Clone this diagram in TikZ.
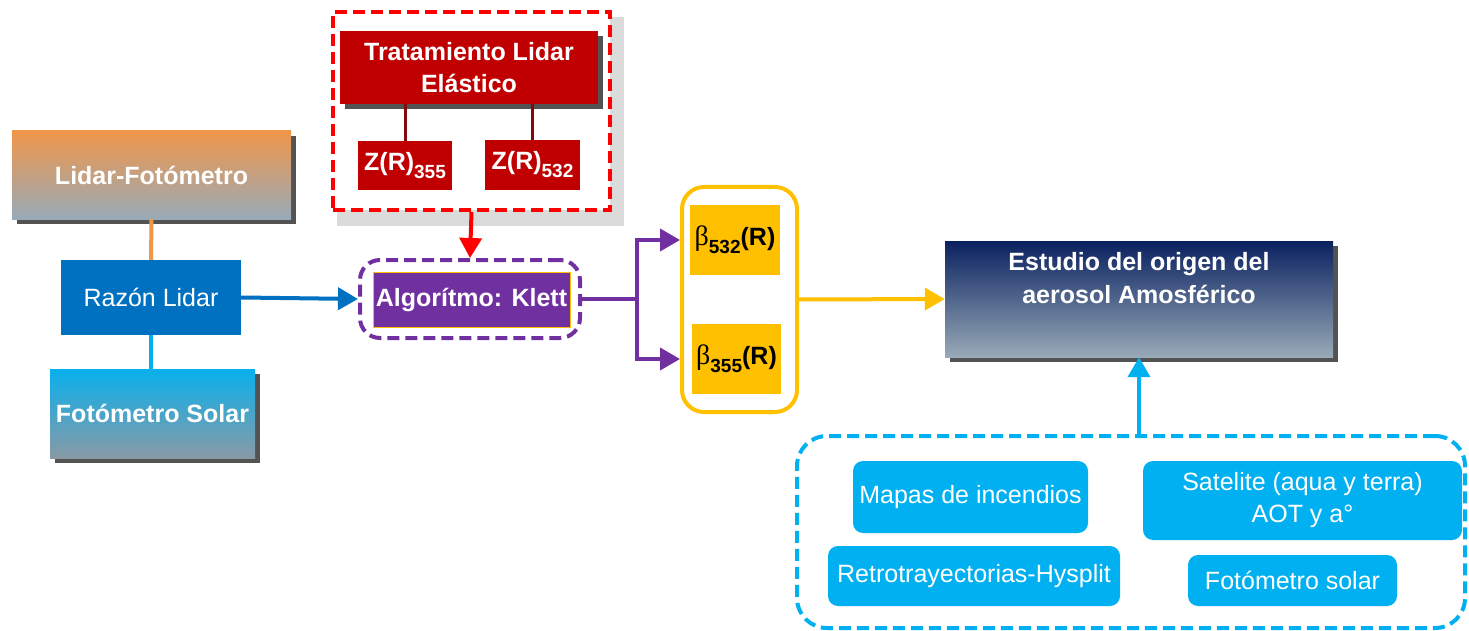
\documentclass[tikz,border=0pt]{standalone}
\usepackage{fontspec}
\setmainfont{Liberation Sans}
\newfontfamily\grfont{Liberation Serif}
\usetikzlibrary{arrows.meta,positioning,calc,shadows}
\definecolor{naranja}{RGB}{240,150,74}
\definecolor{grisazul}{RGB}{152,170,184}
\definecolor{turquesa}{RGB}{8,176,236}
\definecolor{marino}{RGB}{10,33,96}
\definecolor{razon}{RGB}{0,112,192}
\definecolor{rojo}{RGB}{192,0,0}
\definecolor{rojooscuro}{RGB}{130,10,10}
\definecolor{morado}{RGB}{112,48,160}
\definecolor{ambar}{RGB}{255,192,0}
\definecolor{cielo}{RGB}{0,176,240}

\begin{document}
\begin{tikzpicture}[x=1pt,y=-1pt,
  box/.style={inner sep=0pt,align=center,text=white,font=\fontsize{25}{32}\selectfont\bfseries},
  shad/.style={drop shadow={shadow xshift=5pt,shadow yshift=-5pt,fill=black!75,opacity=0.9}},
  fuente/.style={fill=cielo,rounded corners=10pt,inner sep=0pt,align=center,text=white,font=\fontsize{25}{32}\selectfont},
  beta/.style={fill=ambar,inner sep=0pt,font=\fontsize{25}{30}\selectfont\bfseries},
  link/.style={line width=4pt},
  tip/.style={-{Triangle[length=20pt,width=22pt]}},
  dashbox/.style={line width=4pt,dash pattern=on 12pt off 6pt}]
\useasboundingbox (0,0) rectangle (1469,631);

% left column
\node[box,shad,top color=naranja,bottom color=grisazul,minimum width=279pt,minimum height=88pt] (lf) at (151.5,175) {Lidar-Fotómetro};
\node[box,fill=razon,minimum width=180pt,minimum height=75pt,font=\fontsize{25}{30}\selectfont] (rl) at (151,297.5) {Razón Lidar};
\node[box,shad,top color=turquesa,bottom color=grisazul!90!black,minimum width=205pt,minimum height=89pt] (fs) at (152.5,413.5) {Fotómetro Solar};
\draw[link,naranja] (lf.south) -- (rl.north);
\draw[link,cielo] (rl.south) -- (rl.south |- fs.north);

% elastic lidar block
\fill[black!14] (337,17) rectangle (624,226);
\node[dashbox,draw=red,fill=white,minimum width=277pt,minimum height=198pt] (tratbox) at (471.5,111) {};
\node[box,shad,fill=rojo,minimum width=258pt,minimum height=73pt] (trat) at (469,67.5) {Tratamiento Lidar\\Elástico};
\node[box,fill=rojo,minimum width=94pt,minimum height=49pt] (z355) at (405,165.5) {Z(R)\raisebox{-8pt}{\fontsize{19}{20}\selectfont 355}};
\node[box,fill=rojo,minimum width=95pt,minimum height=50pt] (z532) at (532.5,165) {Z(R)\raisebox{-8pt}{\fontsize{19}{20}\selectfont 532}};
\draw[line width=3pt,rojooscuro] (trat.south -| z355) -- (z355.north);
\draw[line width=3pt,rojooscuro] (trat.south -| z532) -- (z532.north);

% Klett
\node[dashbox,draw=morado,fill=white,rounded corners=20pt,minimum width=220pt,minimum height=78pt] (algbox) at (470,299) {};
\node[box,fill=morado,draw=ambar,line width=1pt,minimum width=197pt,minimum height=55pt] (alg) at (471.5,299.5) {Algorítmo: Klett};
\draw[link,razon,tip] (rl.east) -- (algbox.west);
\draw[link,red,tip] (tratbox.south) -- (algbox.north);

% backscatter
\node[draw=ambar,line width=4pt,fill=white,rounded corners=22pt,minimum width=115pt,minimum height=225pt] (betabox) at (739.5,299.5) {};
\node[beta,minimum width=90pt,minimum height=70pt] (b532) at (735,240) {{\grfont\mdseries\fontsize{28}{30}\selectfont β}\raisebox{-8pt}{\fontsize{19}{20}\selectfont 532}(R)};
\node[beta,minimum width=89pt,minimum height=70pt] (b355) at (736.5,359) {{\grfont\mdseries\fontsize{28}{30}\selectfont β}\raisebox{-8pt}{\fontsize{19}{20}\selectfont 355}(R)};
\coordinate (split) at (637,299);
\draw[link,morado] (algbox.east) -- (split);
\draw[link,morado,tip] (split) |- (b532.west -| betabox.west);
\draw[link,morado,tip] (split) |- (b355.west -| betabox.west);

% study
\node[shad,top color=marino,bottom color=grisazul,minimum width=388pt,minimum height=116pt,inner sep=0pt] (estudio) at (1139,299) {};
\node[box,anchor=north,font=\fontsize{25}{33}\selectfont\bfseries] (esttxt) at ($(estudio.north)+(0,11)$) {Estudio del origen del\\aerosol Amosférico};
\draw[link,ambar,tip] (betabox.east) -- (estudio.west);

% sources
\node[dashbox,draw=cielo,rounded corners=30pt,minimum width=668pt,minimum height=192pt] (fuentes) at (1131,532) {};
\node[fuente,minimum width=235pt,minimum height=72pt] (mapas) at (970.5,497) {Mapas de incendios};
\node[fuente,minimum width=319pt,minimum height=79pt] (sat) at (1302.5,500.5) {Satelite (aqua y terra)\\AOT y a°};
\node[fuente,minimum width=292pt,minimum height=60pt] (retro) at (974,576) {Retrotrayectorias-Hysplit};
\node[fuente,minimum width=209pt,minimum height=51pt] (fotsol) at (1292.5,580.5) {Fotómetro solar};
\draw[link,cielo,tip] (estudio.south |- fuentes.north) -- (estudio.south);
\end{tikzpicture}
\end{document}
